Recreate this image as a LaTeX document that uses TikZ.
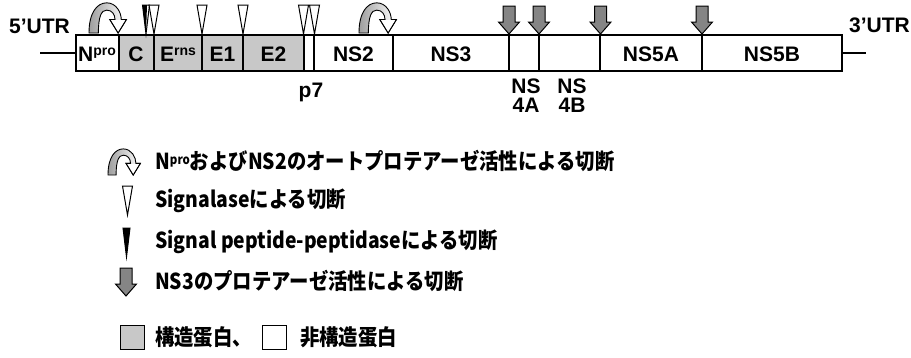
\documentclass[tikz,border=0pt]{standalone}
\usepackage{fontspec}
\setmainfont{Liberation Sans}
\newfontfamily\jp{Noto Sans CJK JP}
\definecolor{sgray}{HTML}{C8C8C8}
\definecolor{agray}{HTML}{858585}
\newcommand\lgtext[1]{\scalebox{0.88}[1]{#1}}
\tikzset{
  segbox/.style={draw=black, line width=1.5pt, minimum height=36pt, inner sep=0pt, outer sep=0pt},
  lbl/.style={font=\fontsize{21}{22}\selectfont\bfseries, inner sep=0pt},
  utr/.style={font=\fontsize{21}{22}\selectfont\bfseries, inner sep=0pt},
  leg/.style={font=\jp\bfseries\fontsize{22}{24}\selectfont, inner sep=0pt, anchor=west},
  lead/.style={line width=1.2pt},
  cutarr/.pic={
    \shade[left color=agray!80, right color=white, draw=black, line width=0.9pt]
      (0,0) .. controls (0,-20) and (8,-29) .. (17,-29)
      .. controls (26,-29) and (31,-20) .. (31,-13) -- (36,-13) -- (28,0) -- (20,-13) -- (25,-13)
      .. controls (25,-18) and (22,-22) .. (17,-22)
      .. controls (12,-22) and (9,-16) .. (9,0) -- cycle;
    \fill[white] (31.5,-12.5) -- (35,-12.5) -- (28,-0.8) -- (21,-12.5) -- cycle;
    \draw[line width=0.9pt] (31,-13) -- (36,-13) -- (28,0) -- (20,-13) -- (25,-13);
  },
  signal/.pic={
    \draw[fill=white, line width=1pt] (-5,-29) -- (5,-29) -- (0,0) -- cycle;
  },
  spp/.pic={
    \draw[fill=black, line width=1pt] (-3.5,-29) -- (3.5,-29) -- (0,0) -- cycle;
  },
  spphalf/.pic={
    \fill[black] (-3.5,-29) -- (1,-29) -- (0,0) -- cycle;
    \draw[line width=1pt] (-3.5,-29) -- (3.5,-29) -- (0,0) -- cycle;
  },
  nsarr/.pic={
    \draw[fill=agray, line width=1pt] (-6,-28) -- (6,-28) -- (6,-12) -- (10.5,-12) -- (0,0)
      -- (-10.5,-12) -- (-6,-12) -- cycle;
  },
}
\begin{document}
\begin{tikzpicture}[x=1pt,y=-1pt]
\useasboundingbox (0,0) rectangle (911,357);
% segments
\foreach \n/\a/\b/\f in {npro/76/119/white, c/119/154/sgray, erns/154/202/sgray,
  e1/202/243/sgray, e2/243/304/sgray, p7/304/314/white, ns2/314/393/white,
  ns3/393/509/white, ns4a/509/539/white, ns4b/539/600/white,
  ns5a/600/702/white, ns5b/702/842/white}
  \node[segbox, fill=\f, minimum width={\b-\a}] (\n) at ({(\a+\b)/2},53) {};
% leaders
\coordinate (l5) at (40,53);
\coordinate (l3) at (866,53);
\draw[lead] (l5) -- (npro.west);
\draw[lead] (ns5b.east) -- (l3);
% UTR labels
\node[utr, anchor=base west] (u5) at (9,33) {5'UTR};
\node[utr, anchor=base east] (u3) at (910,32) {3'UTR};
% labels inside
\node[lbl, anchor=base west] (tnpro) at (78,61) {N{\fontsize{14}{14}\selectfont\raisebox{6pt}{pro}}};
\node[lbl, anchor=base] (tc) at (136,61) {C};
\node[lbl, anchor=base] (terns) at (178,61) {E{\fontsize{14}{14}\selectfont\raisebox{6pt}{rns}}};
\node[lbl, anchor=base] (te1) at (222.5,61) {E1};
\node[lbl, anchor=base] (te2) at (273.5,61) {E2};
\node[lbl, anchor=base] (tns2) at (353.5,61) {NS2};
\node[lbl, anchor=base] (tns3) at (451,61) {NS3};
\node[lbl, anchor=base] (tns5a) at (651,61) {NS5A};
\node[lbl, anchor=base] (tns5b) at (772,61) {NS5B};
% labels below
\node[lbl, anchor=base] (tp7) at (311,97) {p7};
\node[lbl, anchor=base] (tns4a) at (526,93) {NS};
\node[lbl, anchor=base] (tns4a2) at (526,112) {4A};
\node[lbl, anchor=base] (tns4b) at (572,93) {NS};
\node[lbl, anchor=base] (tns4b2) at (572,112) {4B};
% cleavage markers on top
\pic at (89,33) [scale=1.04] {cutarr};
\pic at (359,33) [scale=1.04] {cutarr};
\pic at (146,34) {spphalf};
\foreach \x in {154,202,243,303.5,314.5} \pic at (\x,34) {signal};
\foreach \x in {509,539,600.5,702} \pic at (\x,34) {nsarr};
% legend
\pic at (108,175) [scale=0.9] {cutarr};
\node[leg] (t1) at (155,161) {\lgtext{N{\fontsize{13}{13}\selectfont\raisebox{5pt}{pro}}およびNS2のオートプロテアーゼ活性による切断}};
\pic at (127.5,215) {signal};
\node[leg] (t2) at (155,201) {\lgtext{Signalaseによる切断}};
\pic at (126.5,257) {spp};
\node[leg] (t3) at (155,242) {\lgtext{Signal peptide-peptidaseによる切断}};
\pic at (126,296) {nsarr};
\node[leg] (t4) at (155,281) {\lgtext{NS3のプロテアーゼ活性による切断}};
\node[draw, fill=sgray, line width=1pt, minimum size=24pt, inner sep=0pt] (sq1) at (132,337) {};
\node[leg] (t5) at (155,337) {\lgtext{構造蛋白、}};
\node[draw, fill=white, line width=1pt, minimum size=24pt, inner sep=0pt] (sq2) at (274,337) {};
\node[leg] (t6) at (300,337) {\lgtext{非構造蛋白}};
\end{tikzpicture}
\end{document}
